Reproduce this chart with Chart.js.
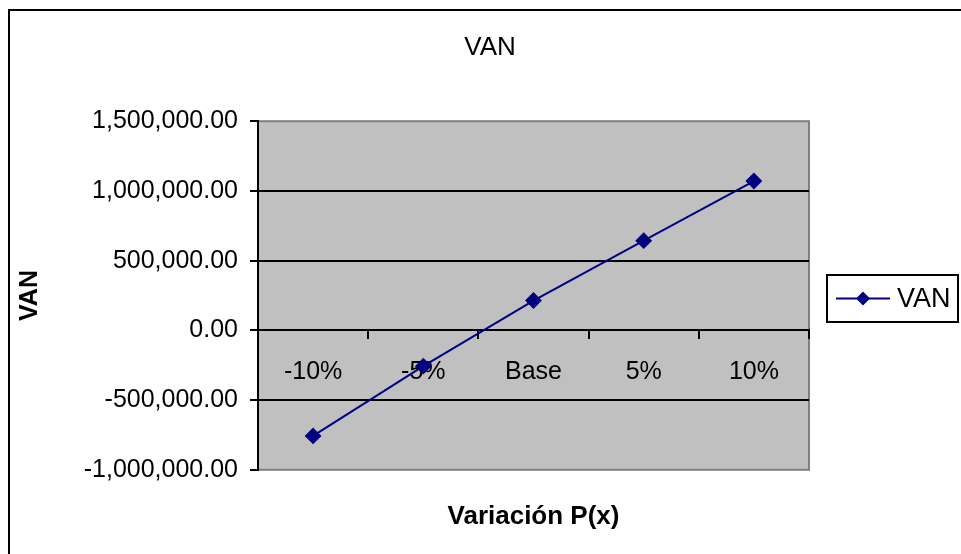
<!DOCTYPE html>
<html>
<head>
<meta charset="utf-8">
<title>VAN</title>
<script src="https://cdn.jsdelivr.net/npm/chart.js@4.4.1/dist/chart.umd.min.js"></script>
<style>
  html, body { margin: 0; padding: 0; background: #ffffff; }
  #wrap { width: 961px; height: 554px; }
</style>
</head>
<body>
<div id="wrap"><canvas id="c" width="961" height="554"></canvas></div>
<script>
// Sensitivity of VAN to the variation of P(x)
const categories = ['-10%', '-5%', 'Base', '5%', '10%'];
const vanValues = [-757000, -257000, 214000, 643000, 1071000];
const yTicks = [-1000000, -500000, 0, 500000, 1000000, 1500000];
const seriesName = 'VAN';
const chartTitle = 'VAN';
const xTitle = 'Variación P(x)';
const yTitle = 'VAN';

const FONT = '"Liberation Sans", Arial, Helvetica, sans-serif';
const NAVY = '#000080';

function fmt(v) {
  const neg = v < 0;
  const s = Math.abs(Math.round(v)).toString().replace(/\B(?=(\d{3})+(?!\d))/g, ',');
  return (neg ? '-' : '') + s + '.00';
}

// grey plot area, outer frame and boxed legend
const decor = {
  id: 'decor',
  beforeDraw(chart) {
    const { ctx, chartArea: a } = chart;
    ctx.save();
    ctx.fillStyle = '#ffffff';
    ctx.fillRect(0, 0, chart.width, chart.height);
    ctx.fillStyle = '#C0C0C0';
    ctx.fillRect(a.left, a.top, a.right - a.left, a.bottom - a.top);
    ctx.strokeStyle = '#808080';
    ctx.lineWidth = 2;
    ctx.strokeRect(a.left, a.top, a.right - a.left, a.bottom - a.top);
    // outer chart frame
    ctx.strokeStyle = '#000000';
    ctx.lineWidth = 2;
    ctx.strokeRect(9, 10, chart.width + 20, chart.height + 20);
    ctx.restore();
  },
  afterDraw(chart) {
    const { ctx } = chart;
    const ds = chart.data.datasets[0];
    const bx = 827, by = 275, bw = 131, bh = 47;
    const cy = by + bh / 2;
    ctx.save();
    ctx.fillStyle = '#ffffff';
    ctx.fillRect(bx, by, bw, bh);
    ctx.strokeStyle = '#000000';
    ctx.lineWidth = 2;
    ctx.strokeRect(bx, by, bw, bh);
    ctx.strokeStyle = ds.borderColor;
    ctx.lineWidth = ds.borderWidth;
    ctx.beginPath();
    ctx.moveTo(836, cy);
    ctx.lineTo(890, cy);
    ctx.stroke();
    ctx.fillStyle = ds.borderColor;
    ctx.beginPath();
    ctx.moveTo(863, cy - 7);
    ctx.lineTo(870, cy);
    ctx.lineTo(863, cy + 7);
    ctx.lineTo(856, cy);
    ctx.closePath();
    ctx.fill();
    ctx.fillStyle = '#000000';
    ctx.font = '27px ' + FONT;
    ctx.textAlign = 'left';
    ctx.textBaseline = 'middle';
    ctx.fillText(ds.label, 897, cy + 1);
    ctx.restore();
  }
};

new Chart(document.getElementById('c'), {
  type: 'line',
  data: {
    labels: categories,
    datasets: [{
      label: seriesName,
      data: vanValues,
      borderColor: NAVY,
      backgroundColor: NAVY,
      borderWidth: 2,
      pointStyle: 'rectRot',
      pointRadius: 7,
      pointHoverRadius: 7,
      pointBackgroundColor: NAVY,
      pointBorderColor: NAVY,
      tension: 0,
      fill: false
    }]
  },
  options: {
    responsive: false,
    animation: false,
    events: [],
    layout: { padding: { left: 19, right: 0, top: 0, bottom: 0 } },
    plugins: {
      legend: { display: false },
      tooltip: { enabled: false },
      title: {
        display: true,
        text: chartTitle,
        color: '#000000',
        font: { family: FONT, size: 26, weight: 'normal', lineHeight: 1.2 },
        padding: { top: 32, bottom: 58 }
      },
      subtitle: {
        display: true,
        position: 'bottom',
        fullSize: false,
        text: xTitle,
        color: '#000000',
        font: { family: FONT, size: 26, weight: 'bold', lineHeight: 1.2 },
        padding: { top: 31, bottom: 22 }
      }
    },
    scales: {
      x: {
        type: 'category',
        position: { y: 0 },
        offset: true,
        grid: {
          display: true,
          drawOnChartArea: false,
          drawTicks: true,
          tickLength: 8,
          color: '#000000',
          tickColor: '#000000',
          offset: true,
          lineWidth: 2
        },
        border: { display: true, color: '#000000', width: 2 },
        ticks: {
          color: '#000000',
          font: { family: FONT, size: 25 },
          padding: 19,
          maxRotation: 0,
          autoSkip: false
        }
      },
      y: {
        position: 'left',
        min: -1000000,
        max: 1500000,
        afterBuildTicks(scale) {
          scale.ticks = yTicks.map(v => ({ value: v }));
        },
        afterFit(scale) { scale.width = 239; },
        grid: {
          color: ctx => (ctx.tick && (ctx.tick.value === -1000000 || ctx.tick.value === 1500000)) ? 'rgba(0,0,0,0)' : '#000000',
          tickColor: '#000000',
          lineWidth: 2,
          tickLength: 8
        },
        border: { display: true, color: '#000000', width: 2 },
        ticks: {
          color: '#000000',
          font: { family: FONT, size: 25 },
          padding: 12,
          callback: v => fmt(v)
        },
        title: {
          display: true,
          text: yTitle,
          color: '#000000',
          font: { family: FONT, size: 25, weight: 'bold', lineHeight: 0.8 },
          padding: { top: 1, bottom: 0 }
        }
      },
      side: {
        position: 'right',
        display: true,
        afterFit(scale) { scale.width = 152; },
        grid: { display: false, drawOnChartArea: false, drawTicks: false },
        border: { display: false },
        ticks: { display: false }
      }
    }
  },
  plugins: [decor]
});
</script>
</body>
</html>
